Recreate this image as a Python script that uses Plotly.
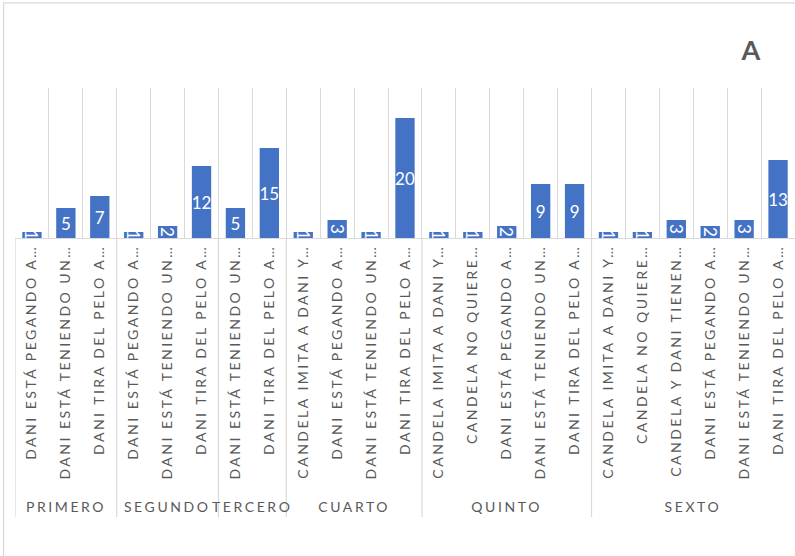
import plotly.graph_objects as go

# Observed behaviours per school year
groups = (["PRIMERO"] * 3 + ["SEGUNDO"] * 3 + ["TERCERO"] * 2 +
          ["CUARTO"] * 4 + ["QUINTO"] * 5 + ["SEXTO"] * 6)
labels = [
    "DANI ESTÁ PEGANDO A…", "DANI ESTÁ TENIENDO UN…", "DANI TIRA DEL PELO A…",
    "DANI ESTÁ PEGANDO A…", "DANI ESTÁ TENIENDO UN…", "DANI TIRA DEL PELO A…",
    "DANI ESTÁ TENIENDO UN…", "DANI TIRA DEL PELO A…",
    "CANDELA IMITA A DANI Y…", "DANI ESTÁ PEGANDO A…", "DANI ESTÁ TENIENDO UN…",
    "DANI TIRA DEL PELO A…",
    "CANDELA IMITA A DANI Y…", "CANDELA NO QUIERE…", "DANI ESTÁ PEGANDO A…",
    "DANI ESTÁ TENIENDO UN…", "DANI TIRA DEL PELO A…",
    "CANDELA IMITA A DANI Y…", "CANDELA NO QUIERE…", "CANDELA Y DANI TIENEN…",
    "DANI ESTÁ PEGANDO A…", "DANI ESTÁ TENIENDO UN…", "DANI TIRA DEL PELO A…",
]
values = [1, 5, 7,
          1, 2, 12,
          5, 15,
          1, 3, 1, 20,
          1, 1, 2, 9, 9,
          1, 1, 3, 2, 3, 13]

BAR = "#4472C4"
GRID = "#D9D9D9"
TXT = "#595959"
FONT = "Lato"

xs = list(range(len(values)))

fig = go.Figure(go.Bar(
    x=xs, y=values,
    text=[str(v) for v in values],
    textposition="inside",
    insidetextanchor="middle",
    constraintext="none",
    textfont=dict(color="white", size=17, family=FONT),
    marker=dict(color=BAR, line=dict(width=0)),
    width=0.57,
    hoverinfo="skip",
))

# group spans along the category axis
group_order = []
for g in groups:
    if g not in group_order:
        group_order.append(g)
spans = []
for g in group_order:
    idx = [i for i, gg in enumerate(groups) if gg == g]
    spans.append((g, idx[0] - 0.5, idx[-1] + 0.5))

shapes = []
# group separators running through the label area
for _, start, _end in spans:
    shapes.append(dict(type="line", xref="x", yref="paper",
                       x0=start, x1=start, y0=0, y1=-1.86,
                       line=dict(color=GRID, width=1.2)))
# outer chart frame
shapes.append(dict(type="rect", xref="paper", yref="paper",
                   x0=-0.0147, x1=1.05, y0=-3.0, y1=1.567,
                   line=dict(color=GRID, width=1.3), layer="below"))

annotations = []
for g, start, end in spans:
    annotations.append(dict(
        text=g, x=(start + end) / 2, xref="x", y=-1.793, yref="paper",
        xanchor="center", yanchor="middle", showarrow=False,
        font=dict(size=14, color=TXT, family=FONT)))

fig.update_layout(
    width=795, height=556,
    margin=dict(l=15, r=0, t=88, b=318),
    paper_bgcolor="white", plot_bgcolor="white",
    showlegend=False,
    title=dict(text="<b>A</b>", x=751 / 795, xanchor="center",
               y=1 - 51 / 556, yanchor="middle",
               font=dict(size=27, color=TXT, family=FONT)),
    xaxis=dict(
        range=[-0.5, len(values) - 0.5],
        tickmode="array", tickvals=xs, ticktext=labels,
        tickangle=-90,
        tickfont=dict(size=14, color=TXT, family=FONT),
        showgrid=False, zeroline=False,
        showline=True, linecolor=GRID, linewidth=1.2,
        ticks="",
        minor=dict(tickmode="linear", tick0=-0.5, dtick=1,
                   showgrid=True, gridcolor=GRID, gridwidth=1.2, ticks=""),
        fixedrange=True,
    ),
    yaxis=dict(range=[0, 25], visible=False, showgrid=False,
               zeroline=False, fixedrange=True),
    shapes=shapes,
    annotations=annotations,
)

# spaced caps style for category and group labels
post = """
var gd = document.getElementById('{plot_id}');
function spaceText() {
  gd.querySelectorAll('.xtick text').forEach(function (t) {
    t.setAttribute('letter-spacing', '2.5px');
  });
  gd.querySelectorAll('.annotation-text').forEach(function (t) {
    t.setAttribute('letter-spacing', '2.6px');
  });
}
spaceText();
gd.on('plotly_afterplot', spaceText);
setTimeout(spaceText, 50);
"""

fig.write_html("out.html", post_script=post, config={"displayModeBar": False})
